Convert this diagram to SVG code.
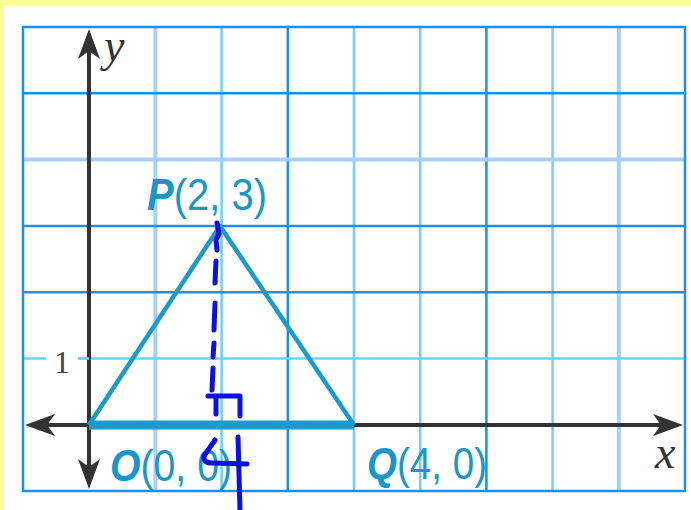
<svg xmlns="http://www.w3.org/2000/svg" xmlns:xlink="http://www.w3.org/1999/xlink" width="691" height="510" viewBox="0 0 691 510">
<style>
.gd{stroke:#1c8fe6;stroke-width:2.5;fill:none}
.gc{stroke:#72cffa;stroke-width:2.5;fill:none}
.gl{stroke:#a9cff7;stroke-width:4;fill:none}
.axis{stroke:#333;stroke-width:4;fill:none}
.tri{stroke:#1b9acb;stroke-width:4.5;fill:none;stroke-linejoin:round}
.lbl{font-family:"Liberation Sans",Arial,sans-serif;font-size:44px;fill:#1b96c8}
.pt{font-weight:bold;font-style:italic}
.var{font-family:"Liberation Serif","Times New Roman",serif;font-style:italic;font-size:46px;fill:#333}
.num{font-family:"Liberation Serif","Times New Roman",serif;font-size:32px;fill:#444}
.pen{stroke:#0a10e6;stroke-width:5;fill:none;stroke-linecap:round;stroke-linejoin:round}
</style>
<defs>
<path id="ah" d="M0,0 L-30,-11 L-22,0 L-30,11 Z" fill="#333"/>
</defs>
<rect width="691" height="510" fill="#ffffff"/>
<rect width="691" height="5" fill="#fdfb9a"/>
<rect width="4" height="510" fill="#fdfb9a"/>
<g id="grid">
<line class="gl" x1="155.4" y1="27" x2="155.4" y2="491"/>
<line class="gc" x1="221.6" y1="27" x2="221.6" y2="491"/>
<line class="gd" x1="287.8" y1="27" x2="287.8" y2="491"/>
<line class="gc" x1="354" y1="27" x2="354" y2="491"/>
<line class="gc" x1="420.2" y1="27" x2="420.2" y2="491"/>
<line class="gd" x1="486.4" y1="27" x2="486.4" y2="491"/>
<line class="gc" x1="552.6" y1="27" x2="552.6" y2="491"/>
<line class="gl" x1="618.8" y1="27" x2="618.8" y2="491"/>
<line class="gd" x1="23" y1="93.3" x2="685" y2="93.3"/>
<line class="gl" x1="23" y1="159.6" x2="685" y2="159.6"/>
<line class="gd" x1="23" y1="225.9" x2="685" y2="225.9"/>
<line class="gd" x1="23" y1="292.2" x2="685" y2="292.2"/>
<line class="gc" x1="23" y1="358.5" x2="685" y2="358.5"/>
<rect class="gd" x="23" y="27" width="662" height="464"/>
</g>
<g id="axes">
<line class="axis" x1="40" y1="425" x2="668" y2="425"/>
<line class="axis" x1="89" y1="44" x2="89" y2="474"/>
<use xlink:href="#ah" href="#ah" transform="translate(683,425)"/>
<use xlink:href="#ah" href="#ah" transform="translate(25,425) rotate(180)"/>
<use xlink:href="#ah" href="#ah" transform="translate(89,29) rotate(-90)"/>
<use xlink:href="#ah" href="#ah" transform="translate(89,489) rotate(90)"/>
<rect x="46" y="344" width="32" height="30" fill="#fff"/>
<line x1="78" y1="358.5" x2="89" y2="358.5" stroke="#72cffa" stroke-width="2.5"/>
<text class="num" x="62" y="373" text-anchor="middle">1</text>
<text class="var" x="104" y="61">y</text>
<text class="var" x="655" y="468">x</text>
</g>
<g id="triangle">
<polyline class="tri" points="89,425 220,226 354,425"/>
<line x1="89" y1="425" x2="354" y2="425" stroke="#1b9acb" stroke-width="9"/>
</g>
<g id="node-P"><text class="lbl" x="147" y="210" textLength="120" lengthAdjust="spacingAndGlyphs"><tspan class="pt">P</tspan>(2, 3)</text></g>
<g id="node-O"><text class="lbl" x="110" y="481" textLength="122" lengthAdjust="spacingAndGlyphs"><tspan class="pt">O</tspan>(0, 0)</text></g>
<g id="node-Q"><text class="lbl" x="367" y="479" textLength="120" lengthAdjust="spacingAndGlyphs"><tspan class="pt">Q</tspan>(4, 0)</text></g>
<g id="pen">
<path class="pen" d="M217,223 L219,234 L216,240 L217,250"/>
<path class="pen" d="M216,261 L215,283"/>
<path class="pen" d="M215,303 L214,330"/>
<path class="pen" d="M214,343 L213,357"/>
<path class="pen" d="M213,368 L212,390"/>
<path class="pen" d="M208,396 L240,396 L240,416"/>
<path class="pen" d="M216,397 L216,414"/>
<path class="pen" d="M215,440 L204,456 Q203,463 212,463 L247,464"/>
<path class="pen" d="M238,437 L240,510"/>
</g>
</svg>
